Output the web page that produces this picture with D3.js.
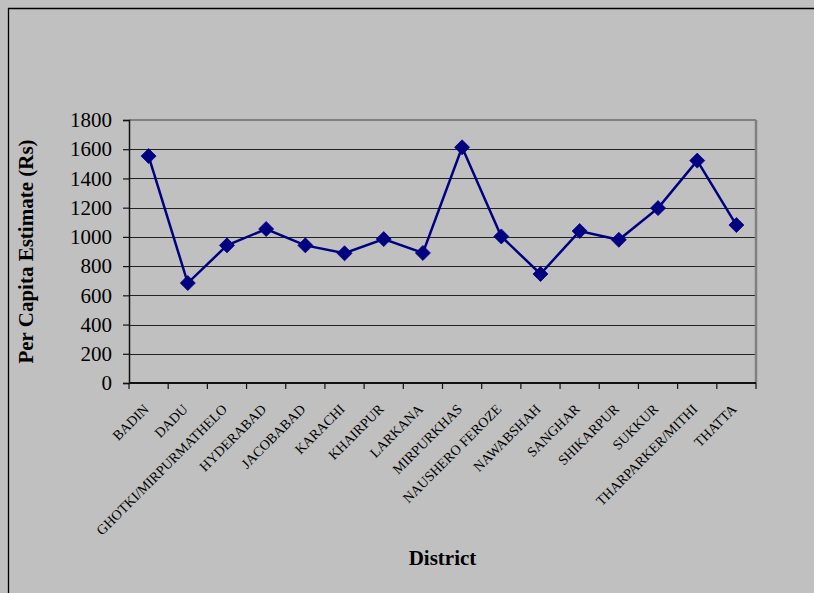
<!DOCTYPE html>
<html>
<head>
<meta charset="utf-8">
<script src="https://cdn.jsdelivr.net/npm/d3@7"></script>
<style>
  html, body { margin: 0; background: #c0c0c0; overflow: hidden; }
  svg { display: block; font-family: "Liberation Serif", "Times New Roman", serif; }
</style>
</head>
<body>
<div id="chart"></div>
<script>
// districts along the x axis
var districts = ["BADIN", "DADU", "GHOTKI/MIRPURMATHELO", "HYDERABAD", "JACOBABAD", "KARACHI",
    "KHAIRPUR", "LARKANA", "MIRPURKHAS", "NAUSHERO FEROZE", "NAWABSHAH", "SANGHAR",
    "SHIKARPUR", "SUKKUR", "THARPARKER/MITHI", "THATTA"];

// per capita estimate (Rs)
var perCapita = [1553, 684, 942, 1054, 942, 888, 985, 890, 1613, 1003, 746, 1040, 980, 1197, 1522, 1081];

var yTicks = [0, 200, 400, 600, 800, 1000, 1200, 1400, 1600, 1800];

var W = 814, H = 593;
var margin = { top: 120, right: 58, bottom: 210, left: 129 };
var width = W - margin.left - margin.right;
var height = H - margin.top - margin.bottom;

var svg = d3.select("#chart")
    .append("svg")
    .attr("width", W)
    .attr("height", H)
    .style("overflow", "hidden");

// chart frame: only the left and top edges are inside the picture
svg.append("line")
    .attr("x1", 8.5).attr("x2", 8.5)
    .attr("y1", 8).attr("y2", H)
    .attr("stroke", "#000").attr("stroke-width", 1.3);
svg.append("line")
    .attr("x1", 8).attr("x2", W)
    .attr("y1", 8.5).attr("y2", 8.5)
    .attr("stroke", "#000").attr("stroke-width", 1.3);

var g = svg.append("g")
    .attr("transform", "translate(" + margin.left + "," + margin.top + ")");

var x = d3.scaleBand()
    .domain(districts)
    .range([0, width]);

var y = d3.scaleLinear()
    .domain([0, 1800])
    .range([height, 0]);

// gridlines
g.selectAll(".grid")
    .data(yTicks.filter(d => d > 0 && d < 1800))
    .enter()
    .append("line")
    .attr("class", "grid")
    .attr("x1", 0).attr("x2", width)
    .attr("y1", d => Math.round(y(d)) + 0.5)
    .attr("y2", d => Math.round(y(d)) + 0.5)
    .attr("stroke", "#222")
    .attr("stroke-width", 1);

// top and right border of plot area
g.append("line")
    .attr("x1", 0).attr("x2", width)
    .attr("y1", 0).attr("y2", 0)
    .attr("stroke", "#808080").attr("stroke-width", 2);
g.append("line")
    .attr("x1", width).attr("x2", width)
    .attr("y1", 0).attr("y2", height)
    .attr("stroke", "#808080").attr("stroke-width", 2.5);

// y axis
var yAxis = d3.axisLeft(y)
    .tickValues(yTicks)
    .tickFormat(d3.format("d"))
    .tickSize(6)
    .tickPadding(11);

var yg = g.append("g")
    .attr("class", "y-axis")
    .call(yAxis);
yg.attr("font-family", "Liberation Serif").attr("font-size", 21);
yg.select(".domain").attr("stroke", "#111").attr("stroke-width", 1.5);
yg.selectAll(".tick line").attr("stroke", "#111").attr("stroke-width", 1.2);
yg.selectAll(".tick text")
    .attr("fill", "#000");

// x axis: ticks on category boundaries
var xg = g.append("g")
    .attr("class", "x-axis")
    .attr("transform", "translate(0," + height + ")");

xg.append("line")
    .attr("x1", 0).attr("x2", width)
    .attr("y1", 0).attr("y2", 0)
    .attr("stroke", "#111").attr("stroke-width", 2);

var bounds = districts.map(d => x(d)).concat([width]);
xg.selectAll(".xtick")
    .data(bounds)
    .enter()
    .append("line")
    .attr("class", "xtick")
    .attr("x1", d => d).attr("x2", d => d)
    .attr("y1", 0).attr("y2", 6)
    .attr("stroke", "#111").attr("stroke-width", 1.2);

xg.selectAll(".xlabel")
    .data(districts)
    .enter()
    .append("text")
    .attr("class", "xlabel")
    .attr("transform", d => "translate(" + (x(d) + x.bandwidth() / 2 + 1) + ",27) rotate(-45)")
    .attr("text-anchor", "end")
    .attr("font-size", 14)
    .attr("fill", "#000")
    .text(d => d);

// series line
var line = d3.line()
    .x((d, i) => x(districts[i]) + x.bandwidth() / 2)
    .y(d => y(d));

g.append("path")
    .datum(perCapita)
    .attr("fill", "none")
    .attr("stroke", "#000080")
    .attr("stroke-width", 2.5)
    .attr("d", line);

// diamond markers
g.selectAll(".marker")
    .data(perCapita)
    .enter()
    .append("path")
    .attr("class", "marker")
    .attr("transform", (d, i) => "translate(" + (x(districts[i]) + x.bandwidth() / 2) + "," + y(d) + ")")
    .attr("d", "M0,-7.5L7.5,0L0,7.5L-7.5,0Z")
    .attr("fill", "#000080")
    .attr("stroke", "#000080")
    .attr("stroke-width", 0.8);

// axis titles
svg.append("text")
    .attr("transform", "translate(33," + (margin.top + height / 2) + ") rotate(-90)")
    .attr("text-anchor", "middle")
    .attr("font-weight", "bold")
    .attr("font-size", 21)
    .text("Per Capita Estimate (Rs)");

svg.append("text")
    .attr("x", margin.left + width / 2)
    .attr("y", 565)
    .attr("text-anchor", "middle")
    .attr("font-weight", "bold")
    .attr("font-size", 21)
    .text("District");
</script>
</body>
</html>
